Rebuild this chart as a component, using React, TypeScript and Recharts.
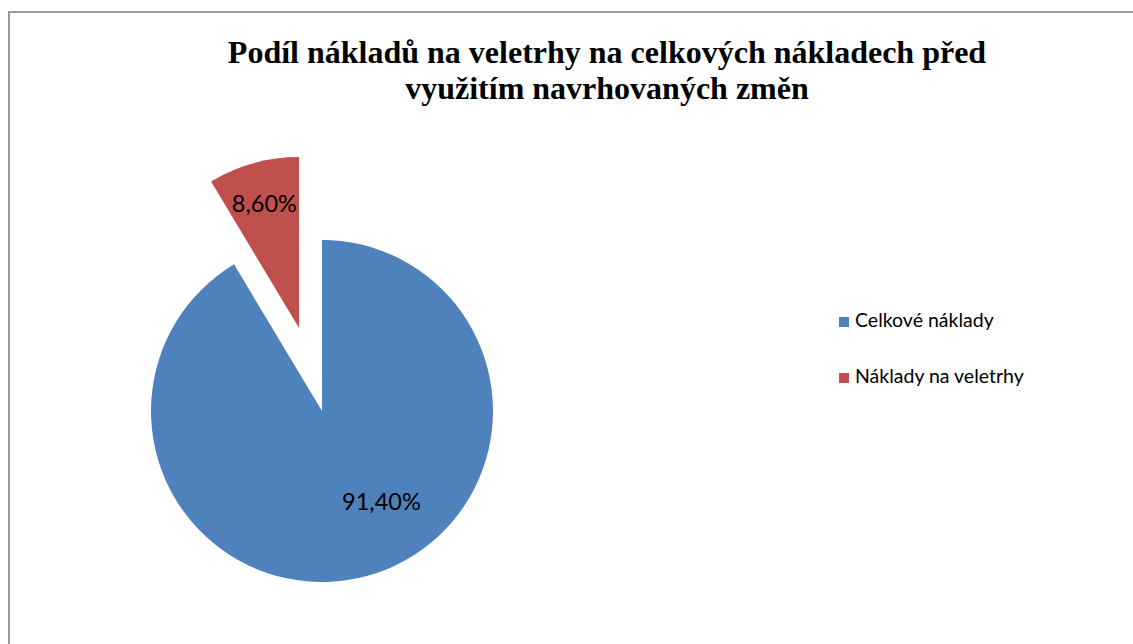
import React from 'react';
import { PieChart, Pie, Cell } from 'recharts';

const categories = ['Celkové náklady', 'Náklady na veletrhy'];
const shares = [91.4, 8.6];
const colors = ['#4F81BD', '#C0504D'];
const titleLines = ['Podíl nákladů na veletrhy na celkových nákladech před', 'využitím navrhovaných změn'];

const data = categories.map((name, i) => ({ name, value: shares[i] }));

const RADIAN = Math.PI / 180;
const CX = 312;
const CY = 398;
const R = 171;
const EXPLODE = 86;
const START = 90;
const END = -270;

// mid angle of the exploded slice, from the data
const total = shares.reduce((a, b) => a + b, 0);
const redMid = START - (360 * (shares[0] + shares[1] / 2)) / total;
const redCx = CX + EXPLODE * Math.cos(redMid * RADIAN);
const redCy = CY - EXPLODE * Math.sin(redMid * RADIAN);

const fmt = (v: number) => v.toFixed(2).replace('.', ',') + '%';

const makeLabel = (visible: number, dist: number, nudge: number) => (props: any) => {
    const { cx, cy, midAngle, outerRadius, index, value } = props;
    if (index !== visible) return null;
    const a = (midAngle + nudge) * RADIAN;
    const x = cx + outerRadius * dist * Math.cos(a);
    const y = cy - outerRadius * dist * Math.sin(a);
    return (
        <text x={x} y={y} textAnchor="middle" dominantBaseline="central" fill="#000" fontSize={23.5} fontFamily="Lato, sans-serif">
            {fmt(value)}
        </text>
    );
};

export default function App() {
    return (
        <div style={{ position: 'absolute', left: 8, top: 11, width: 1140, height: 650, border: '2px solid #9a9a9a', background: '#fff' }}>
            <div style={{ position: 'absolute', left: 0, top: 21, width: 1194, textAlign: 'center', fontFamily: '"Liberation Serif", serif', fontWeight: 'bold', fontSize: 32, lineHeight: '36px', color: '#000' }}>
                {titleLines.map((t) => (
                    <div key={t}>{t}</div>
                ))}
            </div>
            <PieChart width={1125} height={640} margin={{ top: 0, right: 0, bottom: 0, left: 0 }} style={{ position: 'absolute', left: 0, top: 0 }}>
                <Pie
                    data={data}
                    dataKey="value"
                    cx={CX}
                    cy={CY}
                    outerRadius={R}
                    startAngle={START}
                    endAngle={END}
                    stroke="none"
                    isAnimationActive={false}
                    labelLine={false}
                    label={makeLabel(0, 0.633, 17.8)}
                >
                    {data.map((d, i) => (
                        <Cell key={d.name} fill={i === 0 ? colors[0] : 'transparent'} />
                    ))}
                </Pie>
                <Pie
                    data={data}
                    dataKey="value"
                    cx={redCx}
                    cy={redCy}
                    outerRadius={R}
                    startAngle={START}
                    endAngle={END}
                    stroke="none"
                    isAnimationActive={false}
                    labelLine={false}
                    label={makeLabel(1, 0.76, 0)}
                >
                    {data.map((d, i) => (
                        <Cell key={d.name} fill={i === 1 ? colors[1] : 'transparent'} />
                    ))}
                </Pie>
            </PieChart>
            {categories.map((c, i) => (
                <div
                    key={c}
                    style={{ position: 'absolute', left: 829, top: 295 + i * 56, height: 23, display: 'flex', alignItems: 'center', fontFamily: 'Lato, sans-serif', fontSize: 19.5, color: '#000', whiteSpace: 'nowrap' }}
                >
                    <span style={{ display: 'inline-block', width: 10, height: 10, background: colors[i], marginRight: 6, marginTop: 4 }} />
                    {c}
                </div>
            ))}
        </div>
    );
}
